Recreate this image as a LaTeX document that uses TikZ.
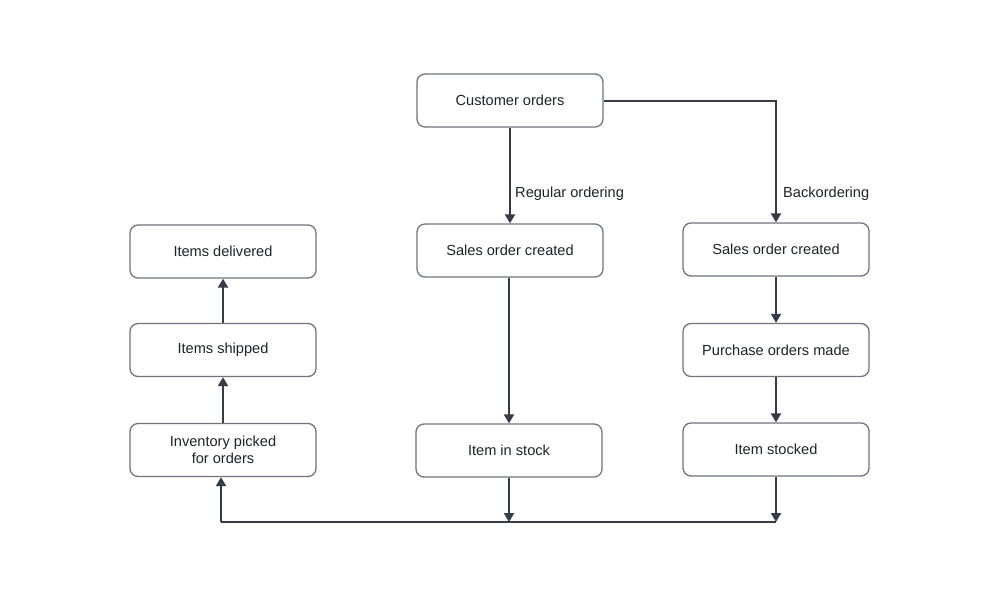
\documentclass[tikz,border=0pt]{standalone}
\usepackage{fontspec}
\setmainfont{Liberation Sans}
\usetikzlibrary{arrows.meta}
\definecolor{linec}{HTML}{363D47}
\definecolor{boxc}{HTML}{70757D}
\definecolor{textc}{HTML}{1F2329}
\begin{document}
\begin{tikzpicture}[x=1pt,y=-1pt,
  box/.style={draw=boxc,line width=1.3pt,rounded corners=8pt,fill=white,
    minimum width=186pt,minimum height=53pt,align=center,text=textc,
    font=\fontsize{14.6}{17.5}\selectfont},
  conn/.style={draw=linec,line width=2pt,-{Triangle[width=10pt,length=9pt]}},
  plain/.style={draw=linec,line width=2pt},
  lbl/.style={text=textc,font=\fontsize{14.6}{17}\selectfont,anchor=west,inner sep=0pt}]
\useasboundingbox (0,0) rectangle (1000,600);
\fill[white] (0,0) rectangle (1000,600);
\node[box] (co) at (510,100.5) {Customer orders};
\node[box] (som) at (510,250.5) {Sales order created};
\node[box] (sor) at (776,249.5) {Sales order created};
\node[box] (del) at (223,251.5) {Items delivered};
\node[box] (shp) at (223,350) {Items shipped};
\node[box] (inv) at (223,450) {Inventory picked\\for orders};
\node[box] (ins) at (509,450.5) {Item in stock};
\node[box] (pom) at (776,350) {Purchase orders made};
\node[box] (its) at (776,449.5) {Item stocked};
\node[lbl] (rl) at (515,194) {Regular ordering};
\node[lbl] (bl2) at (783,194) {Backordering};
\coordinate (bm) at (509,522);
\coordinate (br) at (776,522);
\coordinate (bl) at (221,522);
\draw[conn] (co.south -| som.north) -- (som.north);
\draw[conn] (co.east) -| (sor.north);
\draw[conn] (sor.south) -- (pom.north);
\draw[conn] (pom.south) -- (its.north);
\draw[conn] (som.south -| ins.north) -- (ins.north);
\draw[conn] (ins.south) -- (bm);
\draw[conn] (its.south) -- (br);
\draw[plain] (br) -- (bl);
\draw[conn] (bl) -- (bl |- inv.south);
\draw[conn] (inv.north) -- (shp.south);
\draw[conn] (shp.north) -- (del.south);
\end{tikzpicture}
\end{document}
